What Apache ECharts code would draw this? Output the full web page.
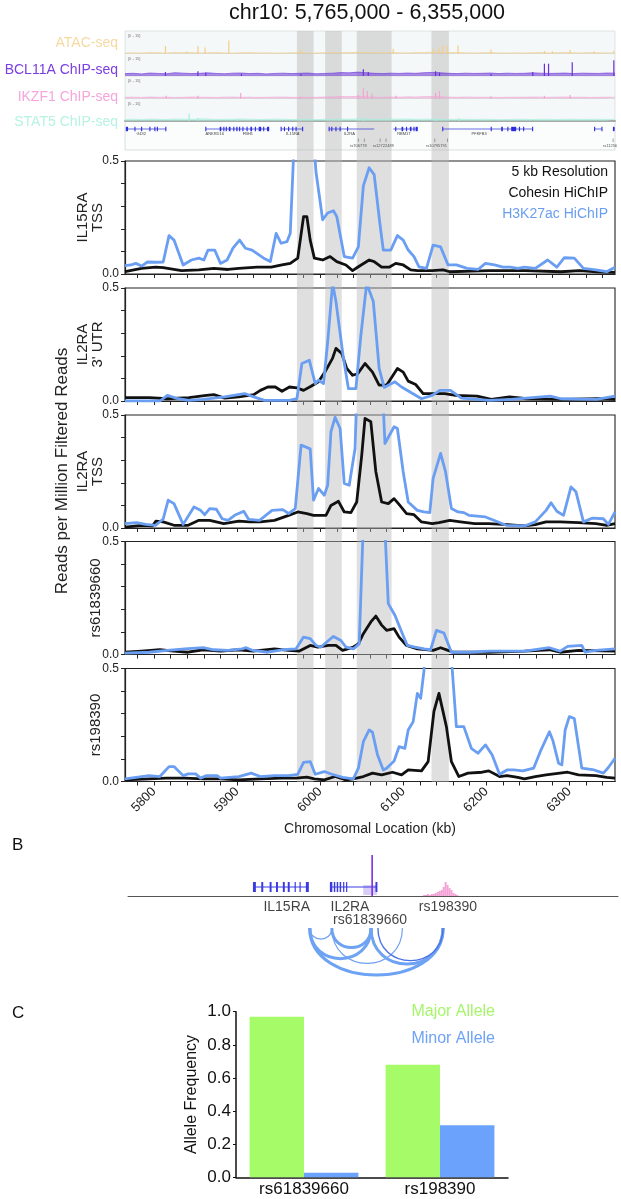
<!DOCTYPE html>
<html><head><meta charset="utf-8">
<script src="https://cdn.jsdelivr.net/npm/echarts@6/dist/echarts.min.js"></script>
<style>html,body{margin:0;padding:0;background:#fff}#c{width:621px;height:1199px}</style>
</head><body><div id="c"></div><script>
const FONT = "'Liberation Sans', Arial, Helvetica, sans-serif";
const X_MIN = 5765, X_MAX = 6355;
const xTickLabels = [5800, 5900, 6000, 6100, 6200, 6300];
const xMinorTicks = [5780,5800,5820,5840,5860,5880,5900,5920,5940,5960,5980,6000,6020,6040,6060,6080,6100,6120,6140,6160,6180,6200,6220,6240,6260,6280,6300,6320,6340];
const highlightBands = [[5972,5992],[6006,6026],[6044,6086],[6134,6155]];

// ---- top signal tracks ----
const NOISE_STEP = 10;
const atacNoise = [0.4,0.5,0.3,0.6,0.5,0.4,0.7,0.5,0.6,0.4,0.5,0.6,0.4,0.3,0.5,0.6,0.4,0.5,0.3,0.4,0.5,0.6,0.3,0.4,0.5,0.7,0.5,0.6,0.8,0.6,0.7,0.5,0.6,0.5,0.4,0.6,0.7,0.9,0.8,0.6,0.7,0.5,0.4,0.5,0.6,0.4,0.3,0.5,0.4,0.5,0.6,0.4,0.5,0.7,0.5,0.4,0.6,0.5,0.4,0.5];
const bcl11aNoise = [1.6,1.8,1.4,2.0,1.7,1.5,2.2,1.9,1.6,1.8,2.1,1.7,1.5,1.9,2.0,1.6,1.8,1.4,1.7,1.9,1.6,1.8,2.0,1.5,1.7,1.9,2.3,2.1,2.6,2.2,1.8,1.6,1.9,1.7,2.0,1.8,2.2,2.4,2.1,1.8,1.6,1.9,1.7,1.8,2.0,1.6,1.9,1.7,1.8,2.1,1.9,1.7,1.8,2.0,1.6,1.9,1.8,1.7,2.0,1.9];
const ikzf1Noise = [0.8,0.9,0.7,1.0,0.8,0.9,0.7,0.8,1.0,0.9,0.8,0.7,0.9,1.0,0.8,0.9,0.7,0.8,0.9,1.0,0.8,0.7,0.9,0.8,1.0,1.1,1.3,1.2,1.4,1.1,0.9,0.8,1.0,0.9,1.1,1.0,1.2,1.3,1.1,0.9,0.8,1.0,0.9,0.8,0.9,0.7,0.8,0.9,0.8,1.0,0.9,0.8,0.9,1.0,0.8,0.9,0.7,0.8,0.9,0.8];
const stat5Noise = [1.0,1.2,0.9,1.3,1.1,1.0,1.4,1.2,1.1,1.5,1.3,1.0,1.2,1.1,1.4,1.2,1.0,1.1,1.3,1.2,1.0,1.1,1.2,0.9,1.1,1.2,1.3,1.1,1.4,1.2,1.0,1.1,1.3,1.2,1.4,1.1,1.2,1.3,1.1,1.0,1.2,1.1,1.0,1.2,1.1,0.9,1.0,1.2,1.1,1.0,1.1,1.2,1.0,1.1,1.3,1.0,1.1,1.2,1.0,1.1];
const atacPeaks = [[5813.7,5],[5839.4,1.4],[5852.8,5],[5861.4,4],[5890,8.6],[5976.8,2.7],[6088,3.2],[6135.6,3.2],[6142.8,4],[6147.6,5.6],[6153.3,5.6],[6166,5.4],[6205.7,2.7],[6270,1.8],[6279.7,1.4],[6301,2.3],[6329.8,1.4],[6353.6,1.8]];
const bcl11aPeaks = [[5813.7,2.7],[5852.8,3.2],[5862.3,2.3],[5905.2,1.4],[5976.8,1.4],[6052,4.5],[6057.9,2.7],[6139,3.2],[6143.7,2.3],[6205.7,1.4],[6256,2.7],[6270,8.2],[6275,8.2],[6303.5,9.1],[6353.6,10.5]];
const ikzf1Peaks = [[5814.6,1.8],[5852.8,1.8],[5904.3,3.6],[5976.8,1.4],[6046,2.3],[6052,6.8],[6056.8,5],[6062.6,3.2],[6091.3,1.8],[6139,4],[6143.7,5],[6205.7,1.4],[6270,1.8],[6301,2.3]];
const stat5Peaks = [[5842.2,5],[5852.8,1.8],[5900.5,1.4],[6052,2.3],[6139,1.8],[6167.5,1.8]];
const trackNames = ['ATAC-seq','BCL11A ChIP-seq','IKZF1 ChIP-seq','STAT5 ChIP-seq'];
const trackRange = '[0 - 15]';

const topGenes = [
  {name:'GDI2', start:5766, end:5814.6, exons:[[5766,5767],5768,5777,5785,5795,5801,5804,[5813.5,5814.6]]},
  {name:'ANKRD16', start:5862.3, end:5900.5, exons:[5862.3,[5879,5881],5884,5887,[5890,5892],5896,[5899,5900.5]]},
  {name:'FBH1', start:5900.5, end:5938.6, exons:[5903,5907,5912,[5916,5918],5922,[5926,5929],5932,[5936,5938.6]]},
  {name:'IL15RA', start:5953, end:5979.2, exons:[5953,5957,5962,5967,5971,[5978.2,5979.2]]},
  {name:'IL2RA', start:6010.2, end:6065, exons:[[6010.2,6011.2],6014,6019,6024,6033]},
  {name:'RBM17', start:6088, end:6117.5, exons:[6091,[6098,6100],6104,[6108,6110],6113,[6115,6117.5]]},
  {name:'PFKFB3', start:6147.6, end:6255.8, exons:[6147.6,6206,[6218,6220],6226,[6230,6236],6240,6245,6255.8]},
  {name:'LINC02649', start:6329.8, end:6339.3, exons:[[6329.8,6331],6339.3]},
  {name:'', start:6352.5, end:6354.5, exons:[[6352.5,6354.5]]}
];
const geneLabelPos = [5784.6, 5873, 5913, 5967, 6035, 6100.8, 6191.4, 0, 6339.3];
const snpPositions = [6046, 6053.2, 6072.2, 6079.3, 6138, 6153.3, 6352.7];
const snpLabels = [[6046,'rs706778'],[6076,'rs12722489'],[6140,'rs10795791'],[6349,'rs11256']];

// ---- HiChIP virtual 4C panels (reads per million filtered reads) ----
const il15raTssCohesin = [[5765,0.01],[5785,0.025],[5802,0.03],[5811,0.028],[5833,0.015],[5854,0.018],[5872,0.025],[5889,0.02],[5902,0.025],[5924,0.03],[5941,0.03],[5954,0.04],[5964,0.047],[5973,0.07],[5980,0.254],[5984,0.254],[5988,0.15],[5993,0.07],[6003,0.062],[6012,0.077],[6020,0.055],[6031,0.04],[6039,0.015],[6046,0.032],[6059,0.062],[6065,0.055],[6074,0.03],[6083,0.03],[6091,0.047],[6100,0.04],[6109,0.018],[6117,0.015],[6135,0.015],[6148,0.018],[6156,0.01],[6182,0.013],[6204,0.015],[6247,0.015],[6290,0.01],[6312,0.015],[6333,0.01],[6355,0.007]];
const il15raTssH3k27ac = [[5765,0.037],[5772,0.04],[5778,0.047],[5785,0.035],[5792,0.053],[5802,0.052],[5811,0.053],[5818,0.17],[5824,0.15],[5835,0.04],[5845,0.062],[5854,0.07],[5860,0.062],[5865,0.106],[5873,0.106],[5880,0.047],[5888,0.062],[5895,0.114],[5903,0.15],[5910,0.114],[5918,0.106],[5932,0.07],[5940,0.055],[5947,0.18],[5953,0.136],[5960,0.143],[5964,0.18],[5970,0.7],[5975,0.9],[5985,0.9],[5992,0.6],[5995,0.45],[6003,0.24],[6009,0.27],[6016,0.28],[6020,0.254],[6029,0.077],[6039,0.07],[6046,0.12],[6052,0.39],[6059,0.47],[6065,0.44],[6072,0.22],[6076,0.106],[6085,0.106],[6093,0.17],[6100,0.15],[6106,0.106],[6113,0.077],[6119,0.032],[6128,0.025],[6136,0.128],[6145,0.12],[6154,0.04],[6164,0.04],[6177,0.025],[6190,0.02],[6199,0.047],[6210,0.04],[6220,0.03],[6229,0.03],[6238,0.025],[6246,0.03],[6259,0.025],[6274,0.062],[6285,0.03],[6294,0.072],[6306,0.07],[6317,0.025],[6332,0.018],[6345,0.01],[6355,0.03]];
const il2raUtrCohesin = [[5765,0.015],[5794,0.015],[5816,0.01],[5842,0.015],[5863,0.025],[5872,0.028],[5885,0.013],[5902,0.018],[5920,0.028],[5928,0.047],[5937,0.062],[5946,0.062],[5954,0.043],[5963,0.062],[5972,0.058],[5980,0.047],[5989,0.065],[5998,0.085],[6006,0.13],[6015,0.19],[6019,0.233],[6026,0.21],[6032,0.144],[6039,0.114],[6045,0.12],[6054,0.166],[6063,0.128],[6071,0.07],[6080,0.07],[6093,0.144],[6100,0.128],[6106,0.088],[6115,0.073],[6124,0.033],[6137,0.033],[6150,0.033],[6163,0.025],[6189,0.022],[6206,0.007],[6228,0.018],[6249,0.01],[6292,0.007],[6335,0.01],[6355,0.007]];
const il2raUtrH3k27ac = [[5765,0],[5807,0],[5816,0.025],[5829,0.01],[5842,0.003],[5859,0.007],[5885,0.018],[5909,0.033],[5920,0.018],[5933,0.003],[5963,0.003],[5972,0.01],[5978,0.166],[5987,0.18],[5994,0.077],[5998,0.092],[6004,0.077],[6009,0.26],[6015,0.52],[6019,0.44],[6028,0.19],[6034,0.055],[6043,0.055],[6049,0.29],[6056,0.52],[6064,0.44],[6071,0.144],[6077,0.06],[6090,0.085],[6098,0.062],[6122,0.01],[6135,0.025],[6144,0.047],[6157,0.047],[6170,0.013],[6204,0.003],[6230,0.007],[6277,0.022],[6290,0.01],[6333,0.007],[6355,0.022]];
const il2raTssCohesin = [[5765,0.004],[5785,0.012],[5798,0.009],[5802,0.03],[5811,0.027],[5824,0.012],[5841,0.012],[5854,0.034],[5867,0.034],[5884,0.019],[5902,0.03],[5915,0.027],[5928,0.027],[5945,0.034],[5962,0.056],[5973,0.071],[5984,0.064],[5992,0.056],[6007,0.056],[6013,0.1],[6022,0.118],[6029,0.071],[6037,0.068],[6044,0.115],[6050,0.32],[6054,0.485],[6061,0.47],[6067,0.25],[6074,0.115],[6082,0.108],[6089,0.13],[6096,0.1],[6104,0.064],[6113,0.059],[6122,0.027],[6135,0.019],[6143,0.024],[6156,0.034],[6169,0.027],[6186,0.019],[6203,0.019],[6225,0.015],[6246,0.009],[6259,0.015],[6272,0.027],[6289,0.027],[6311,0.024],[6332,0.019],[6345,0.012],[6355,0.019]];
const il2raTssH3k27ac = [[5765,0.019],[5779,0.024],[5790,0.016],[5802,0.012],[5811,0.04],[5817,0.123],[5824,0.108],[5835,0.016],[5848,0.093],[5856,0.078],[5861,0.059],[5867,0.086],[5875,0.083],[5882,0.041],[5889,0.034],[5897,0.056],[5908,0.074],[5914,0.038],[5927,0.034],[5942,0.078],[5955,0.081],[5962,0.064],[5970,0.086],[5977,0.367],[5988,0.35],[5992,0.123],[5998,0.175],[6005,0.145],[6009,0.189],[6013,0.426],[6018,0.49],[6024,0.44],[6029,0.197],[6035,0.189],[6042,0.352],[6045,0.7],[6074,0.7],[6078,0.374],[6089,0.448],[6093,0.44],[6100,0.248],[6106,0.115],[6117,0.078],[6125,0.071],[6132,0.068],[6136,0.22],[6145,0.33],[6151,0.248],[6158,0.086],[6166,0.071],[6173,0.068],[6179,0.056],[6199,0.049],[6209,0.034],[6224,0.012],[6246,0.009],[6259,0.027],[6272,0.078],[6278,0.112],[6285,0.074],[6293,0.056],[6302,0.182],[6308,0.16],[6317,0.027],[6328,0.044],[6341,0.041],[6347,0.016],[6355,0.071]];
const rs61839660Cohesin = [[5765,0.01],[5785,0.015],[5807,0.021],[5824,0.015],[5841,0.01],[5859,0.021],[5880,0.015],[5902,0.021],[5919,0.015],[5945,0.025],[5962,0.018],[5975,0.015],[5988,0.04],[5997,0.033],[6010,0.04],[6019,0.04],[6027,0.018],[6040,0.033],[6046,0.047],[6052,0.092],[6061,0.144],[6067,0.17],[6074,0.13],[6080,0.107],[6089,0.114],[6095,0.077],[6104,0.04],[6117,0.025],[6130,0.021],[6136,0.018],[6145,0.03],[6154,0.018],[6160,0.01],[6203,0.01],[6246,0.015],[6276,0.021],[6289,0.01],[6311,0.018],[6355,0.015]];
const rs61839660H3k27ac = [[5765,0.006],[5794,0.01],[5816,0.018],[5837,0.025],[5859,0.03],[5872,0.021],[5889,0.018],[5906,0.025],[5911,0.03],[5919,0.018],[5937,0.01],[5954,0.021],[5971,0.025],[5980,0.077],[5988,0.07],[5995,0.04],[6001,0.033],[6010,0.062],[6016,0.08],[6025,0.062],[6031,0.033],[6040,0.025],[6047,0.047],[6054,0.8],[6075,0.8],[6082,0.225],[6090,0.174],[6099,0.092],[6105,0.04],[6114,0.033],[6125,0.025],[6133,0.021],[6140,0.107],[6149,0.095],[6158,0.01],[6181,0.01],[6203,0.015],[6246,0.015],[6276,0.03],[6289,0.015],[6298,0.036],[6315,0.04],[6319,0.01],[6332,0.018],[6355,0.025]];
const rs198390Cohesin = [[5765,0.007],[5794,0.012],[5815,0.015],[5837,0.015],[5859,0.012],[5880,0.012],[5902,0.007],[5928,0.012],[5954,0.015],[5971,0.015],[5984,0.019],[5993,0.012],[6005,0.007],[6018,0.022],[6031,0.007],[6040,0.012],[6052,0.022],[6063,0.037],[6074,0.029],[6087,0.041],[6098,0.029],[6106,0.051],[6122,0.047],[6130,0.088],[6137,0.31],[6143,0.39],[6152,0.243],[6158,0.088],[6167,0.022],[6178,0.037],[6195,0.041],[6203,0.047],[6216,0.022],[6225,0.026],[6238,0.018],[6246,0.012],[6259,0.022],[6272,0.029],[6298,0.041],[6311,0.029],[6332,0.026],[6345,0.018],[6355,0.015]];
const rs198390H3k27ac = [[5765,0.012],[5794,0.026],[5807,0.022],[5818,0.066],[5824,0.066],[5835,0.026],[5841,0.034],[5850,0.034],[5856,0.015],[5863,0.026],[5876,0.026],[5880,0.015],[5902,0.022],[5917,0.037],[5928,0.022],[5945,0.026],[5962,0.026],[5973,0.032],[5980,0.085],[5988,0.088],[5994,0.032],[6005,0.044],[6014,0.032],[6027,0.018],[6040,0.012],[6046,0.059],[6052,0.176],[6059,0.228],[6063,0.218],[6069,0.118],[6076,0.051],[6080,0.059],[6089,0.091],[6095,0.154],[6102,0.147],[6106,0.228],[6112,0.265],[6117,0.39],[6121,0.368],[6125,0.49],[6128,0.7],[6155,0.7],[6164,0.243],[6173,0.243],[6182,0.147],[6190,0.125],[6199,0.162],[6207,0.118],[6216,0.032],[6225,0.051],[6233,0.051],[6244,0.047],[6257,0.059],[6265,0.132],[6276,0.22],[6280,0.184],[6287,0.081],[6291,0.074],[6295,0.228],[6300,0.287],[6306,0.279],[6315,0.059],[6330,0.051],[6341,0.037],[6347,0.062],[6355,0.103]];
const panelNames = ['IL15RA\nTSS', "IL2RA\n3' UTR", 'IL2RA\nTSS', 'rs61839660', 'rs198390'];
const panelCohesin = [il15raTssCohesin, il2raUtrCohesin, il2raTssCohesin, rs61839660Cohesin, rs198390Cohesin];
const panelH3k27ac = [il15raTssH3k27ac, il2raUtrH3k27ac, il2raTssH3k27ac, rs61839660H3k27ac, rs198390H3k27ac];
const legendLines = ['5 kb Resolution', 'Cohesin HiChIP', 'H3K27ac HiChIP'];

// ---- panel B schematic (positions in schematic units along the track line) ----
const bGenes = [
  {start:25.7, end:36.8, exons:[[25.5,26.1],[27.2,27.6],[28.9,29.3],[30.2,30.6],[31.6,32.0],[32.6,33.0],[34.0,34.2],[35.0,35.2],[36.3,36.9]]},
  {start:41.4, end:50.8, exons:[[41.2,41.7],[42.0,42.3],[42.6,42.9],[43.2,43.5],[43.9,44.1],[44.5,44.7],[50.5,50.9]]}
];
const bBcl11aShade = [48.0, 50.8];
const bBcl11aSpike = [[49.6, 41]];
const bIkzf1Pos = [60.6,61.0,61.4,61.8,62.2,62.6,63.0,63.4,63.8,64.2,64.6,65.0,65.4,65.8,66.2,66.6,67.0,67.4];
const bIkzf1Height = [1,1,2,1,2,2,3,4,5,6,9,14,11,8,6,3,2,1];
const bLabels = [['IL15RA',32.4,-11],['IL2RA',45.3,-11],['rs61839660',49.4,-24],['rs198390',65.3,-11]];
const loopArcs = [[37.1,64.3,3.2],[37.1,49.6,3],[37.1,41.6,1.3],[41.6,49.6,3],[41.6,56.0,1.2],[49.6,64.3,3],[51.0,64.3,1.4,'#4a72e6']];
const ARC_Y = -32;

// ---- panel C ----
const alleleCategories = ['rs61839660', 'rs198390'];
const majorAllele = [0.97, 0.68];
const minorAllele = [0.028, 0.315];

// =================== build ===================
const grids = [], xAxes = [], yAxes = [], series = [];
function addGrid(g, x, y) {
  grids.push(g); const i = grids.length - 1;
  xAxes.push(Object.assign({gridIndex: i}, x));
  yAxes.push(Object.assign({gridIndex: i}, y));
  return i;
}
const PL = 125, PW = 490;
const trackTops = [31, 53.5, 76, 98.5], TRACK_H = 22.5;
const trackBar = ['#f3cf8c', '#6a30d8', '#f2a2d4', '#a4eedb'];
const trackText = ['#f6d9a2', '#7a3ee2', '#f5a6da', '#b6f3e2'];
const noises = [atacNoise, bcl11aNoise, ikzf1Noise, stat5Noise];
const peaks = [atacPeaks, bcl11aPeaks, ikzf1Peaks, stat5Peaks];
const graphic = [];

trackNames.forEach((nm, k) => {
  const gi = addGrid({left: PL, width: PW, top: trackTops[k], height: TRACK_H, show: true, backgroundColor: '#f5f8f8', borderColor: '#cdd3d3', borderWidth: 0.6},
    {type: 'value', min: X_MIN, max: X_MAX, show: k === 3, axisLine: {show: true, onZero: false, lineStyle: {color: '#a9a9a9', width: 2}}, axisTick: {show: false}, axisLabel: {show: false}, splitLine: {show: false}},
    {type: 'value', min: 0, max: 15, show: false});
  series.push({type: 'line', xAxisIndex: gi, yAxisIndex: gi, silent: true, symbol: 'none',
    data: noises[k].map((v, i) => [X_MIN + i * NOISE_STEP, v]),
    lineStyle: {width: 0.6, color: trackBar[k]}, areaStyle: {color: trackBar[k], opacity: 0.55}});
  series.push({type: 'bar', xAxisIndex: gi, yAxisIndex: gi, silent: true, data: peaks[k], barWidth: 1.2, itemStyle: {color: trackBar[k]}});
  graphic.push({type: 'text', x: PL + 3, y: trackTops[k] + 3, style: {text: trackRange, fontSize: 4, fill: '#777', fontFamily: FONT}});
});
[43, 70, 97, 122].forEach((y, k) => graphic.push({type: 'text', x: 118, y: y,
  style: {text: trackNames[k], fontSize: 14, fill: trackText[k], fontFamily: FONT, textAlign: 'right', align: 'right', textVerticalAlign: 'middle', verticalAlign: 'middle'}}));

// gene row
const gr = addGrid({left: PL, width: PW, top: 121.5, height: 28.5, show: true, backgroundColor: '#fbfcfc', borderColor: '#c4caca', borderWidth: 0.6},
  {type: 'value', min: X_MIN, max: X_MAX, show: false}, {type: 'value', min: 0, max: 28.5, inverse: true, show: false});
const GENE_Y = 7.5, GLABEL_Y = 12.5;
series.push({type: 'custom', xAxisIndex: gr, yAxisIndex: gr, silent: true, data: topGenes.map(g => [g.start, g.end]),
  renderItem: (params, api) => {
    const g = topGenes[params.dataIndex];
    const a = api.coord([g.start, GENE_Y]), b = api.coord([g.end, GENE_Y]);
    const ch = [{type: 'line', shape: {x1: a[0], y1: a[1], x2: b[0], y2: b[1]}, style: {stroke: '#2d2ddc', lineWidth: 0.7}}];
    g.exons.forEach(e => {
      const s = Array.isArray(e) ? e[0] : e, t = Array.isArray(e) ? e[1] : e;
      const p = api.coord([s, GENE_Y]), q = api.coord([t, GENE_Y]);
      const w = Math.max(1.1, q[0] - p[0]);
      ch.push({type: 'rect', shape: {x: p[0] - (Array.isArray(e) ? 0 : 0.55), y: p[1] - 2.2, width: w, height: 4.4}, style: {fill: '#2d2ddc'}});
    });
    const lp = geneLabelPos[params.dataIndex];
    if (g.name && lp) {
      const c = api.coord([lp, GLABEL_Y]);
      ch.push({type: 'text', style: {text: g.name, x: c[0], y: c[1], fontSize: 4, fill: '#444', align: 'center', verticalAlign: 'middle', fontFamily: FONT}});
    }
    return {type: 'group', children: ch};
  }});
series.push({type: 'custom', xAxisIndex: gr, yAxisIndex: gr, silent: true, data: snpPositions.map(p => [p]),
  renderItem: (params, api) => {
    const p = api.coord([snpPositions[params.dataIndex], 17]), q = api.coord([snpPositions[params.dataIndex], 20.5]);
    return {type: 'line', shape: {x1: p[0], y1: p[1], x2: q[0], y2: q[1]}, style: {stroke: '#888', lineWidth: 0.8}};
  }});
series.push({type: 'custom', xAxisIndex: gr, yAxisIndex: gr, silent: true, data: snpLabels.map(s => [s[0]]),
  renderItem: (params, api) => {
    const s = snpLabels[params.dataIndex]; const c = api.coord([s[0], 24.5]);
    return {type: 'text', style: {text: s[1], x: c[0], y: c[1], fontSize: 4, fill: '#555', align: 'center', verticalAlign: 'middle', fontFamily: FONT}};
  }});

// HiChIP panels
const panelTops = [161, 288, 415, 541.5, 668.5], PANEL_H = 113;
const nameGaps = [20, 20, 20, 22, 22];
panelNames.forEach((nm, k) => {
  const last = k === panelNames.length - 1;
  const gi = addGrid({left: PL, width: PW, top: panelTops[k], height: PANEL_H, show: true, borderColor: '#222', borderWidth: 1.1, backgroundColor: 'rgba(0,0,0,0)'},
    {type: 'value', min: X_MIN, max: X_MAX,
      axisLine: {show: true, onZero: false, lineStyle: {color: '#222', width: 1.2}},
      axisTick: {show: true, customValues: xMinorTicks, length: 4, lineStyle: {color: '#222', width: 1}},
      axisLabel: {show: last, customValues: xTickLabels, rotate: 45, fontSize: 13, color: '#222', margin: 8, fontFamily: FONT, formatter: v => String(Math.round(v))},
      splitLine: {show: false},
      name: last ? 'Chromosomal Location (kb)' : '', nameLocation: 'middle', nameGap: 41, nameMoveOverlap: false,
      nameTextStyle: {fontSize: 14, color: '#222', fontFamily: FONT}},
    {type: 'value', min: 0, max: 0.5, interval: 0.1,
      axisLine: {show: true, lineStyle: {color: '#222', width: 1.2}},
      axisTick: {show: true, length: 4, lineStyle: {color: '#222', width: 1}},
      axisLabel: {fontSize: 12, color: '#222', margin: 6, fontFamily: FONT,
        formatter: v => (Math.abs(v) < 1e-9 || Math.abs(v - 0.5) < 1e-9) ? v.toFixed(1) : ''},
      splitLine: {show: false},
      name: nm, nameLocation: 'middle', nameRotate: 90, nameGap: nameGaps[k], nameMoveOverlap: false,
      nameTextStyle: {fontSize: 15, lineHeight: 15, color: '#222', fontFamily: FONT}});
  series.push({type: 'line', xAxisIndex: gi, yAxisIndex: gi, data: panelCohesin[k], symbol: 'none', clip: true, z: 3,
    lineStyle: {color: '#111', width: 2.8, join: 'round'}});
  series.push({type: 'line', xAxisIndex: gi, yAxisIndex: gi, data: panelH3k27ac[k], symbol: 'none', clip: true, z: 4,
    lineStyle: {color: '#6a9ef2', width: 2.8, join: 'round'}});
});

// highlight band overlay
const gband = addGrid({left: PL, width: PW, top: 31, height: 751},
  {type: 'value', min: X_MIN, max: X_MAX, show: false}, {type: 'value', min: 0, max: 1, show: false});
series.push({type: 'line', xAxisIndex: gband, yAxisIndex: gband, data: [[X_MIN, 0], [X_MAX, 0]], symbol: 'none', silent: true, z: 20,
  lineStyle: {opacity: 0},
  markArea: {silent: true, itemStyle: {color: 'rgba(185,185,185,0.45)', borderWidth: 0},
    data: highlightBands.map(b => [{xAxis: b[0]}, {xAxis: b[1]}])}});

// panel B
const gb = addGrid({left: 128, width: 490, top: 846, height: 130},
  {type: 'value', min: 0, max: 100, axisLine: {show: true, onZero: true, lineStyle: {color: '#555', width: 1}}, axisTick: {show: false}, axisLabel: {show: false}, splitLine: {show: false}},
  {type: 'value', min: -80, max: 50, show: false});
series.push({type: 'custom', xAxisIndex: gb, yAxisIndex: gb, silent: true, data: [bBcl11aShade],
  renderItem: (params, api) => {
    const p = api.coord([bBcl11aShade[0], 11]), q = api.coord([bBcl11aShade[1], 1]);
    return {type: 'rect', shape: {x: p[0], y: p[1], width: q[0] - p[0], height: q[1] - p[1]}, style: {fill: 'rgba(150,110,235,0.35)'}};
  }});
series.push({type: 'custom', xAxisIndex: gb, yAxisIndex: gb, silent: true, data: bGenes.map(g => [g.start, g.end]),
  renderItem: (params, api) => {
    const g = bGenes[params.dataIndex];
    const a = api.coord([g.start, 9]), b = api.coord([g.end, 9]);
    const ch = [{type: 'line', shape: {x1: a[0], y1: a[1], x2: b[0], y2: b[1]}, style: {stroke: '#3a3ae2', lineWidth: 1}}];
    g.exons.forEach(e => {
      const p = api.coord([e[0], 9]), q = api.coord([e[1], 9]);
      ch.push({type: 'rect', shape: {x: p[0], y: p[1] - 5, width: Math.max(1.2, q[0] - p[0]), height: 10}, style: {fill: '#3a3ae2'}});
    });
    return {type: 'group', children: ch};
  }});
series.push({type: 'bar', xAxisIndex: gb, yAxisIndex: gb, silent: true, data: bIkzf1Pos.map((p, i) => [p, bIkzf1Height[i]]), barWidth: 2, itemStyle: {color: '#f4a2d6'}});
series.push({type: 'bar', xAxisIndex: gb, yAxisIndex: gb, silent: true, data: bBcl11aSpike, barWidth: 1.6, itemStyle: {color: '#7b2fe2'}});
series.push({type: 'scatter', xAxisIndex: gb, yAxisIndex: gb, silent: true, symbolSize: 0,
  data: bLabels.map(l => ({name: l[0], value: [l[1], l[2]]})),
  label: {show: true, position: 'inside', formatter: p => p.name, fontSize: 14, color: '#111', fontFamily: FONT}});
series.push({type: 'custom', xAxisIndex: gb, yAxisIndex: gb, silent: true, data: loopArcs.map(a => [a[0], a[1]]),
  renderItem: (params, api) => {
    const a = loopArcs[params.dataIndex];
    const p1 = api.coord([a[0], ARC_Y]), p2 = api.coord([a[1], ARC_Y]);
    const dx = p2[0] - p1[0];
    const depth = Math.min(dx * 0.5, 47), k = depth / 0.75;
    return {type: 'bezierCurve', shape: {x1: p1[0], y1: p1[1], x2: p2[0], y2: p2[1], cpx1: p1[0], cpy1: p1[1] + k, cpx2: p2[0], cpy2: p2[1] + k},
      style: {stroke: a[3] || '#6ea2f2', lineWidth: a[2], fill: 'none'}};
  }});

// panel C
const gc = addGrid({left: 236, top: 1011.7, width: 272, height: 165.6},
  {type: 'category', data: alleleCategories, axisLine: {show: true, lineStyle: {color: '#111', width: 1.5}}, axisTick: {show: false},
    axisLabel: {fontSize: 17, color: '#111', margin: 4, fontFamily: FONT}},
  {type: 'value', min: 0, max: 1, interval: 0.2, axisLine: {show: true, lineStyle: {color: '#111', width: 1.5}},
    axisTick: {show: true, length: 3, lineStyle: {color: '#111'}},
    axisLabel: {fontSize: 17, color: '#111', margin: 5, fontFamily: FONT, formatter: v => v.toFixed(1)},
    splitLine: {show: false}, name: 'Allele Frequency', nameLocation: 'middle', nameGap: 36, nameMoveOverlap: false,
    nameTextStyle: {fontSize: 16, color: '#111', fontFamily: FONT}});
series.push({type: 'bar', xAxisIndex: gc, yAxisIndex: gc, data: majorAllele, barWidth: '40%', barGap: '0%', itemStyle: {color: '#a6fc68'}});
series.push({type: 'bar', xAxisIndex: gc, yAxisIndex: gc, data: minorAllele, barWidth: '40%', barGap: '0%', itemStyle: {color: '#6aa2fc'}});

// text
function txt(x, y, t, size, color, align, rot) {
  const o = {type: 'text', x: x, y: y, z: 50, style: {text: t, fontSize: size, fill: color, fontFamily: FONT,
    textAlign: align || 'left', align: align || 'left', textVerticalAlign: 'middle', verticalAlign: 'middle'}};
  if (rot) o.rotation = rot;
  graphic.push(o);
}
txt(367, 13, 'chr10: 5,765,000 - 6,355,000', 21.5, '#111', 'center');
txt(62, 471, 'Reads per Million Filtered Reads', 17, '#222', 'center', Math.PI / 2);
txt(608, 172, legendLines[0], 14, '#111', 'right');
txt(608, 193, legendLines[1], 14, '#111', 'right');
txt(608, 214, legendLines[2], 14, '#6a9ef2', 'right');
txt(12, 845, 'B', 17, '#111', 'left');
txt(12, 1013, 'C', 17, '#111', 'left');
txt(495, 1012, 'Major Allele', 16, '#a6f56c', 'right');
txt(495, 1039, 'Minor Allele', 16, '#6ea2f6', 'right');

const chart = echarts.init(document.getElementById('c'), null, {renderer: 'canvas', width: 621, height: 1199});
chart.setOption({animation: false, backgroundColor: '#fff', textStyle: {fontFamily: FONT},
  grid: grids, xAxis: xAxes, yAxis: yAxes, series: series, graphic: graphic});
</script></body></html>
